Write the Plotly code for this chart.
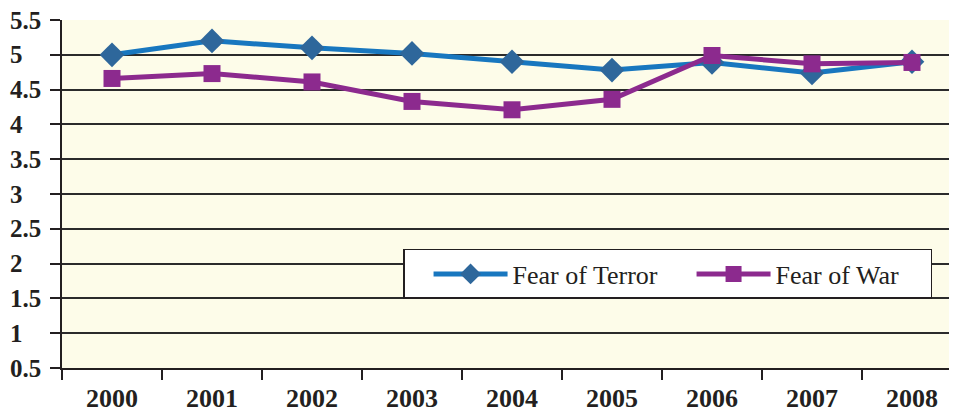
import plotly.graph_objects as go

years = ["2000", "2001", "2002", "2003", "2004", "2005", "2006", "2007", "2008"]
fear_terror = [5.00, 5.20, 5.10, 5.02, 4.90, 4.78, 4.89, 4.74, 4.90]
fear_war = [4.66, 4.73, 4.61, 4.33, 4.21, 4.36, 4.99, 4.87, 4.89]
y_ticks = [0.5, 1, 1.5, 2, 2.5, 3, 3.5, 4, 4.5, 5, 5.5]
y_tick_labels = ["0.5", "1", "1.5", "2", "2.5", "3", "3.5", "4", "4.5", "5", "5.5"]

fig = go.Figure()
fig.add_trace(go.Scatter(
    x=years, y=fear_terror, name="Fear of Terror", mode="lines+markers",
    line=dict(color="#1877bf", width=5),
    marker=dict(symbol="diamond", size=19, color="#2e679b"),
))
fig.add_trace(go.Scatter(
    x=years, y=fear_war, name="Fear of War", mode="lines+markers",
    line=dict(color="#8c2a8e", width=5),
    marker=dict(symbol="square", size=17, color="#8c2a8e"),
))

# left-aligned y tick labels (the reference aligns them on the left)
for v, t in zip(y_ticks, y_tick_labels):
    fig.add_annotation(
        x=0, xref="paper", y=v, yref="y", text=t, showarrow=False,
        xanchor="left", yanchor="middle", xshift=-54,
        font=dict(size=25, family="Liberation Serif", color="#231f20", weight="bold"),
    )

# the page body has an 8px default margin, so margins are reduced by 8px
fig.update_layout(
    width=941, height=404,
    margin=dict(l=54, r=0, t=12, b=44, autoexpand=False),
    paper_bgcolor="white",
    plot_bgcolor="#fdfce9",
    font=dict(family="Liberation Serif", color="#231f20"),
    showlegend=True,
    legend=dict(
        orientation="h", x=0.3845, y=0.342, xanchor="left", yanchor="top",
        bgcolor="white", bordercolor="#231f20", borderwidth=1.5,
        font=dict(size=26, family="Liberation Serif"),
        itemwidth=74, entrywidth=150, entrywidthmode="pixels",
        indentation=24,
    ),
    xaxis=dict(
        type="category", range=[-0.5, 8.37], automargin=False,
        showgrid=False, showline=True, linecolor="#231f20", linewidth=2,
        ticks="outside", tickson="boundaries", ticklen=10, tickwidth=2, tickcolor="#231f20",
        tickfont=dict(size=26, family="Liberation Serif", color="#231f20", weight="bold"),
        ticklabelstandoff=6, ticklabeloverflow="allow",
        fixedrange=True,
    ),
    yaxis=dict(
        range=[0.5, 5.5], tickvals=y_ticks, showticklabels=False, automargin=False,
        showgrid=True, gridcolor="#2b2b2b", gridwidth=1.8,
        showline=True, linecolor="#231f20", linewidth=2,
        ticks="outside", ticklen=10, tickwidth=2, tickcolor="#231f20",
        zeroline=False, fixedrange=True,
    ),
)

fig.write_html("out.html")
